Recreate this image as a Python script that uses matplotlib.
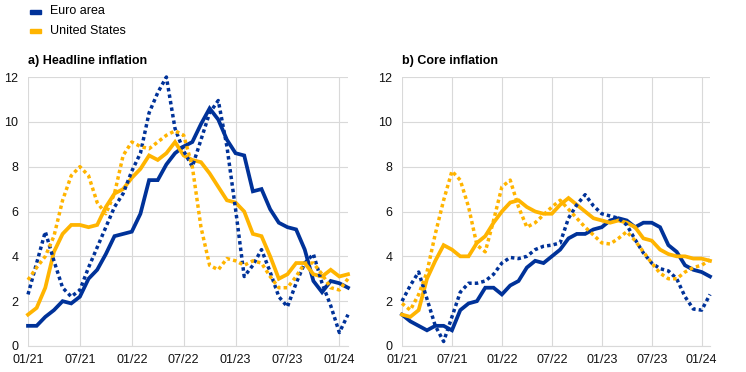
import numpy as np
import matplotlib
matplotlib.use("Agg")
import matplotlib.pyplot as plt
from matplotlib.patches import Rectangle

plt.rcParams["font.family"] = ["Liberation Sans", "DejaVu Sans"]

# monthly observations 01/21 .. 02/24
tick_labels = ["01/21", "07/21", "01/22", "07/22", "01/23", "07/23", "01/24"]

euro_headline = [0.9, 0.9, 1.3, 1.6, 2.0, 1.9, 2.2, 3.0, 3.4, 4.1, 4.9, 5.0,
                 5.1, 5.9, 7.4, 7.4, 8.1, 8.6, 8.9, 9.1, 9.9, 10.6, 10.1, 9.2,
                 8.6, 8.5, 6.9, 7.0, 6.1, 5.5, 5.3, 5.2, 4.3, 2.9, 2.4, 2.9,
                 2.8, 2.6]
us_headline = [1.4, 1.7, 2.6, 4.2, 5.0, 5.4, 5.4, 5.3, 5.4, 6.2, 6.8, 7.0,
               7.5, 7.9, 8.5, 8.3, 8.6, 9.1, 8.5, 8.3, 8.2, 7.7, 7.1, 6.5,
               6.4, 6.0, 5.0, 4.9, 4.0, 3.0, 3.2, 3.7, 3.7, 3.2, 3.1, 3.4,
               3.1, 3.2]
euro_headline_3m = [2.3, 3.7, 5.1, 3.8, 2.6, 2.2, 2.5, 3.5, 4.4, 5.3, 6.2, 6.8,
                    7.8, 8.6, 10.4, 11.3, 12.0, 9.7, 8.7, 8.0, 9.2, 10.4, 10.95, 8.9,
                    6.1, 3.1, 3.6, 4.3, 3.3, 2.2, 1.75, 2.8, 3.7, 4.1, 2.8, 1.8,
                    0.6, 1.4]
us_headline_3m = [2.95, 3.5, 4.0, 4.9, 6.5, 7.6, 8.0, 7.6, 6.4, 5.9, 6.8, 8.5,
                  9.1, 8.9, 8.8, 9.1, 9.4, 9.6, 9.4, 8.0, 5.3, 3.6, 3.4, 3.9,
                  3.8, 3.6, 3.8, 3.7, 3.1, 2.6, 2.6, 3.1, 3.7, 3.7, 3.2, 2.6,
                  2.5, 3.0]

euro_core = [1.4, 1.1, 0.9, 0.7, 0.9, 0.9, 0.7, 1.6, 1.9, 2.0, 2.6, 2.6,
             2.3, 2.7, 2.9, 3.5, 3.8, 3.7, 4.0, 4.3, 4.8, 5.0, 5.0, 5.2,
             5.3, 5.6, 5.7, 5.6, 5.3, 5.5, 5.5, 5.3, 4.5, 4.2, 3.6, 3.4,
             3.3, 3.1]
us_core = [1.4, 1.3, 1.6, 3.0, 3.8, 4.5, 4.3, 4.0, 4.0, 4.6, 4.9, 5.5,
           6.0, 6.4, 6.5, 6.2, 6.0, 5.9, 5.9, 6.3, 6.6, 6.3, 6.0, 5.7,
           5.6, 5.5, 5.6, 5.5, 5.3, 4.8, 4.7, 4.3, 4.1, 4.0, 4.0, 3.9,
           3.9, 3.8]
euro_core_3m = [2.0, 2.7, 3.3, 2.1, 0.9, 0.2, 1.3, 2.4, 2.8, 2.8, 2.9, 3.2,
                3.7, 3.95, 3.9, 4.0, 4.3, 4.45, 4.5, 4.6, 5.7, 6.3, 6.75, 6.25,
                5.9, 5.8, 5.7, 5.4, 4.75, 4.15, 3.7, 3.45, 3.35, 3.0, 2.2, 1.65,
                1.6, 2.3]
us_core_3m = [1.9, 1.6, 2.3, 3.3, 5.0, 6.5, 7.8, 7.4, 6.2, 4.5, 4.2, 5.6,
              7.1, 7.4, 6.2, 5.3, 5.5, 5.85, 6.2, 6.5, 6.1, 5.7, 5.3, 4.95,
              4.6, 4.55, 4.8, 5.1, 4.7, 4.2, 3.7, 3.25, 3.0, 3.0, 3.3, 3.5,
              3.6, 3.85]

EURO = "#003299"
US = "#ffb400"
GRID = "#d9d9d9"

fig = plt.figure(figsize=(7.46, 3.72), dpi=100)
W, H = 746, 372
ax1 = fig.add_axes([28 / W, 26 / H, 320 / W, 269 / H])
ax2 = fig.add_axes([402 / W, 26 / H, 308 / W, 269 / H])


def draw_panel(ax, title, euro, us, euro_3m, us_3m):
    x = np.arange(len(euro))
    ax.plot(x, euro, color=EURO, lw=2.7, solid_joinstyle="miter", clip_on=False, zorder=3)
    ax.plot(x, us, color=US, lw=2.7, solid_joinstyle="miter", clip_on=False, zorder=3)
    ax.plot(x, euro_3m, color=EURO, lw=2.5, linestyle=(0, (1, 0.9)),
            dash_capstyle="butt", clip_on=False, zorder=4)
    ax.plot(x, us_3m, color=US, lw=2.5, linestyle=(0, (1, 0.9)),
            dash_capstyle="butt", clip_on=False, zorder=4)

    ax.set_xlim(0, len(euro) - 1)
    ax.set_ylim(0, 12)
    ax.set_yticks(range(0, 13, 2))
    ax.set_xticks(range(0, len(euro), 6))
    ax.set_xticklabels(tick_labels)
    ax.tick_params(length=0, labelsize=9, colors="#111111")
    ax.tick_params(axis="y", pad=7)
    ax.tick_params(axis="x", pad=6)
    ax.grid(True, color=GRID, lw=0.8)
    ax.set_axisbelow(True)
    for side in ["top", "right", "left"]:
        ax.spines[side].set_visible(False)
    ax.spines["bottom"].set_color(GRID)
    ax.spines["bottom"].set_linewidth(0.8)
    ax.text(0, 1.059, title, transform=ax.transAxes, fontsize=9,
            fontweight="bold", ha="left", va="center")


draw_panel(ax1, "a) Headline inflation", euro_headline, us_headline,
           euro_headline_3m, us_headline_3m)
draw_panel(ax2, "b) Core inflation", euro_core, us_core, euro_core_3m, us_core_3m)

# legend
for i, (name, col) in enumerate([("Euro area", EURO), ("United States", US)]):
    yc = 11.5 + i * 19.5
    fig.patches.append(Rectangle((30 / W, 1 - (yc + 2) / H), 10.5 / W, 4 / H,
                                 transform=fig.transFigure, color=col))
    fig.text(50 / W, 1 - yc / H, name, fontsize=9, ha="left", va="center")

fig.savefig("out.png", dpi=100)
